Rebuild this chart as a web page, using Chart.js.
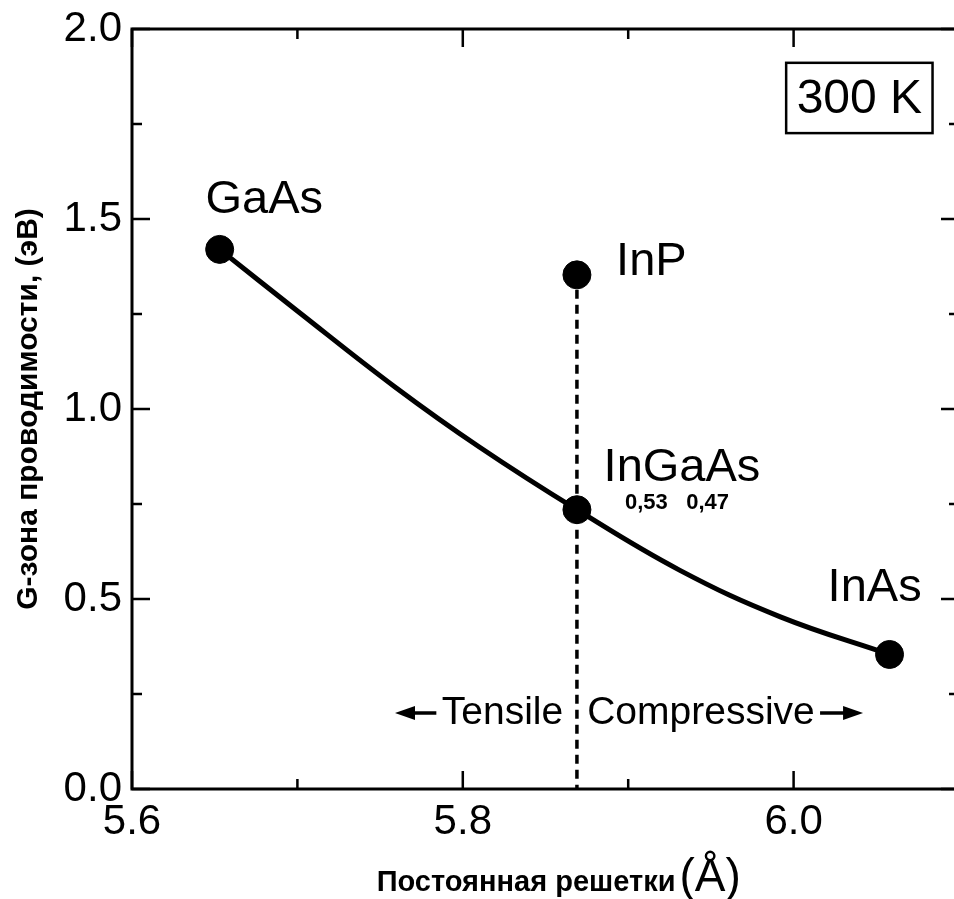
<!DOCTYPE html>
<html>
<head>
<meta charset="utf-8">
<script src="https://cdn.jsdelivr.net/npm/chart.js@4.4.1/dist/chart.umd.min.js"></script>
<style>
  html, body { margin: 0; padding: 0; background: #fff; overflow: hidden; }
  #wrap { width: 980px; height: 899px; position: relative; }
</style>
</head>
<body>
<div id="wrap"><canvas id="myChart"></canvas></div>
<script>
// materials: lattice constant (Å) and Г-band gap (eV)
const materials = ["GaAs", "InP", "InGaAs", "InAs"];
const latticeConst = [5.653, 5.869, 5.869, 6.058];
const bandGap = [1.42, 1.353, 0.735, 0.354];

// InGaAs curve
const curveX = [5.653, 5.70, 5.759, 5.81, 5.869, 5.931, 5.992, 6.058];
const curveY = [1.42, 1.258, 1.058, 0.90, 0.735, 0.576, 0.453, 0.354];

// lattice matched to InP (dashed)
const matchX = [5.869, 5.869];
const matchY = [1.353, 0];

const xTicks = [5.6, 5.8, 6.0];
const xMinor = [5.7, 5.9];
const yTicks = [0, 0.5, 1.0, 1.5, 2.0];
const yMinor = [0.25, 0.75, 1.25, 1.75];

const FONT = "'Liberation Sans', Arial, sans-serif";
const NARROW = "'Liberation Sans Narrow', 'Arial Narrow', " + FONT;

const notes = [
  { text: "GaAs", x: 5.680, y: 1.55, font: "47px " + FONT },
  { text: "InP", x: 5.914, y: 1.387, font: "47px " + FONT },
  { text: "InGaAs", x: 5.9325, y: 0.845, font: "47px " + FONT },
  { text: "0,53", x: 5.911, y: 0.753, font: "bold 22px " + FONT },
  { text: "0,47", x: 5.948, y: 0.753, font: "bold 22px " + FONT },
  { text: "InAs", x: 6.049, y: 0.529, font: "47px " + FONT },
  { text: "Tensile", x: 5.824, y: 0.20, font: "39px " + FONT },
  { text: "Compressive", x: 5.944, y: 0.20, font: "39px " + FONT }
];

const ctx = document.getElementById("myChart");

const extras = {
  id: "extras",
  afterDraw(chart) {
    const c = chart.ctx;
    const a = chart.chartArea;
    const xs = chart.scales.x, ys = chart.scales.y;
    c.save();
    c.strokeStyle = "#000";
    c.fillStyle = "#000";

    // frame
    c.lineWidth = 3;
    c.strokeRect(a.left, a.top, a.right - a.left, a.bottom - a.top);

    // inward ticks on all four sides
    c.lineWidth = 2.5;
    c.beginPath();
    const tickX = (v, len) => {
      const p = xs.getPixelForValue(v);
      c.moveTo(p, a.bottom); c.lineTo(p, a.bottom - len);
      c.moveTo(p, a.top); c.lineTo(p, a.top + len);
    };
    const tickY = (v, len) => {
      const p = ys.getPixelForValue(v);
      c.moveTo(a.left, p); c.lineTo(a.left + len, p);
      c.moveTo(a.right, p); c.lineTo(a.right - len, p);
    };
    xTicks.forEach(v => tickX(v, 18));
    xMinor.forEach(v => tickX(v, 10));
    yTicks.forEach(v => tickY(v, 18));
    yMinor.forEach(v => tickY(v, 10));
    c.stroke();

    // text labels
    c.textAlign = "center";
    c.textBaseline = "middle";
    notes.forEach(n => {
      c.font = n.font;
      c.fillText(n.text, xs.getPixelForValue(n.x), ys.getPixelForValue(n.y));
    });

    // arrows
    const arrow = (x1, x2, y) => {
      const p1 = xs.getPixelForValue(x1), p2 = xs.getPixelForValue(x2);
      const py = ys.getPixelForValue(y);
      const dir = Math.sign(p2 - p1);
      c.lineWidth = 3.5;
      c.beginPath();
      c.moveTo(p1, py); c.lineTo(p2 - dir * 10, py);
      c.stroke();
      c.beginPath();
      c.moveTo(p2, py);
      c.lineTo(p2 - dir * 20, py - 7);
      c.lineTo(p2 - dir * 20, py + 7);
      c.closePath();
      c.fill();
    };
    arrow(5.784, 5.759, 0.20);
    arrow(6.016, 6.042, 0.20);

    // 300 K box
    const bx1 = xs.getPixelForValue(5.9955), bx2 = xs.getPixelForValue(6.084);
    const by1 = ys.getPixelForValue(1.911), by2 = ys.getPixelForValue(1.726);
    c.lineWidth = 2.5;
    c.strokeRect(bx1, by1, bx2 - bx1, by2 - by1);
    c.font = "48px " + FONT;
    c.fillText("300 K", (bx1 + bx2) / 2, (by1 + by2) / 2 + 2);

    // x axis title
    const t1 = "Постоянная решетки";
    const t2 = "(Å)";
    c.font = "bold 29px " + NARROW;
    const w1 = c.measureText(t1).width;
    c.font = "46px " + FONT;
    const w2 = c.measureText(t2).width;
    const gap = 4;
    const cx = xs.getPixelForValue(5.858);
    const left = cx - (w1 + gap + w2) / 2;
    c.textAlign = "left";
    c.textBaseline = "alphabetic";
    c.font = "bold 29px " + NARROW;
    c.fillText(t1, left, 891);
    c.font = "46px " + FONT;
    c.fillText(t2, left + w1 + gap, 891);

    // y axis title
    c.save();
    c.translate(29, (a.top + a.bottom) / 2);
    c.rotate(-Math.PI / 2);
    c.textAlign = "center";
    c.textBaseline = "middle";
    c.font = "bold 30px " + NARROW;
    c.fillText("G-зона проводимости, (эВ)", 0, 0);
    c.restore();

    c.restore();
  }
};

new Chart(ctx, {
  type: "scatter",
  data: {
    datasets: [
      {
        label: "materials",
        data: latticeConst.map((v, i) => ({ x: v, y: bandGap[i] })),
        pointRadius: 14,
        pointHoverRadius: 14,
        backgroundColor: "#000",
        borderColor: "#000",
        showLine: false
      },
      {
        label: "InGaAs",
        data: curveX.map((v, i) => ({ x: v, y: curveY[i] })),
        showLine: true,
        borderColor: "#000",
        borderWidth: 5,
        pointRadius: 0,
        tension: 0.4
      },
      {
        label: "InP matched",
        data: matchX.map((v, i) => ({ x: v, y: matchY[i] })),
        showLine: true,
        borderColor: "#000",
        borderWidth: 3.5,
        borderDash: [9, 6],
        pointRadius: 0
      }
    ]
  },
  options: {
    responsive: true,
    maintainAspectRatio: false,
    animation: false,
    events: [],
    layout: { padding: { top: 29, right: 21, left: 0, bottom: 0 } },
    plugins: { legend: { display: false }, tooltip: { enabled: false } },
    scales: {
      x: {
        type: "linear",
        min: 5.6,
        max: 6.1,
        afterBuildTicks: s => { s.ticks = xTicks.map(v => ({ value: v })); },
        afterFit: s => { s.height = 110; s.paddingLeft = 0; s.paddingRight = 0; },
        grid: { display: false, drawTicks: false },
        border: { display: false },
        ticks: {
          color: "#000",
          padding: 8,
          font: { size: 42, family: FONT },
          callback: v => Number(v).toFixed(1)
        }
      },
      y: {
        type: "linear",
        min: 0,
        max: 2,
        afterBuildTicks: s => { s.ticks = yTicks.map(v => ({ value: v })); },
        afterFit: s => { s.width = 132; s.paddingTop = 0; s.paddingBottom = 0; },
        grid: { display: false, drawTicks: false },
        border: { display: false },
        ticks: {
          color: "#000",
          padding: 10,
          font: { size: 42, family: FONT },
          callback: v => Number(v).toFixed(1)
        }
      }
    }
  },
  plugins: [extras]
});
</script>
</body>
</html>
